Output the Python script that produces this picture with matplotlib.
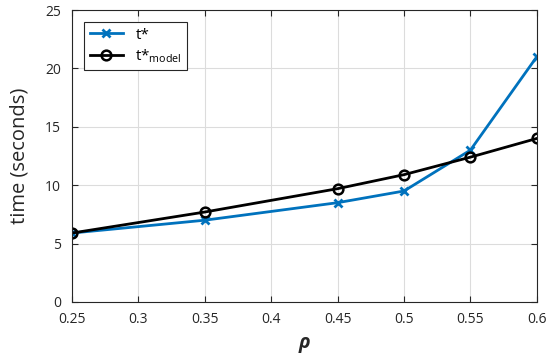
import matplotlib
matplotlib.use("Agg")
import matplotlib.pyplot as plt

# data
rho = [0.25, 0.35, 0.45, 0.5, 0.55, 0.6]
t_star = [5.9, 7.0, 8.5, 9.5, 13.0, 21.0]
t_model = [5.9, 7.7, 9.7, 10.9, 12.4, 14.0]
xticks = [0.25, 0.3, 0.35, 0.4, 0.45, 0.5, 0.55, 0.6]
xticklabels = ["0.25", "0.3", "0.35", "0.4", "0.45", "0.5", "0.55", "0.6"]
yticks = [0, 5, 10, 15, 20, 25]

plt.rcParams['font.family'] = ['Open Sans', 'DejaVu Sans']
plt.rcParams['mathtext.default'] = 'regular'

fig = plt.figure(figsize=(5.5, 3.59), dpi=100)
ax = fig.add_axes([0.131, 0.159, 0.845, 0.813])

ax.plot(rho, t_star, color='#0072BD', lw=2, marker='x', ms=6, mew=2, label='t*')
ax.plot(rho, t_model, color='black', lw=2, marker='o', ms=7, mew=1.8,
        mfc='none', label=r't*$_{model}$')

ax.set_xlim(0.25, 0.6)
ax.set_ylim(0, 25)
ax.set_xticks(xticks)
ax.set_xticklabels(xticklabels)
ax.set_yticks(yticks)
ax.grid(True, color='#dcdcdc', lw=0.8)
ax.set_axisbelow(True)
ax.tick_params(direction='in', top=True, right=True, labelsize=10,
               colors='#262626', length=4)
ax.tick_params(axis='y', pad=8)
ax.tick_params(axis='x', pad=7)
for s in ax.spines.values():
    s.set_color('#262626')
    s.set_linewidth(0.8)

ax.set_ylabel('time (seconds)', fontsize=14.5, color='#262626')
ax.yaxis.set_label_coords(-0.092, 0.5)
ax.set_xlabel('ρ', fontsize=14, fontweight='bold', style='italic',
              color='#262626')
ax.xaxis.set_label_coords(0.5, -0.105)

leg = ax.legend(loc='upper left', fancybox=False, framealpha=1,
                edgecolor='#262626', fontsize=11, borderaxespad=0.8,
                labelspacing=0.3, handlelength=2.2, borderpad=0.35)
leg.get_frame().set_linewidth(0.8)

fig.savefig('out.png', dpi=100)
